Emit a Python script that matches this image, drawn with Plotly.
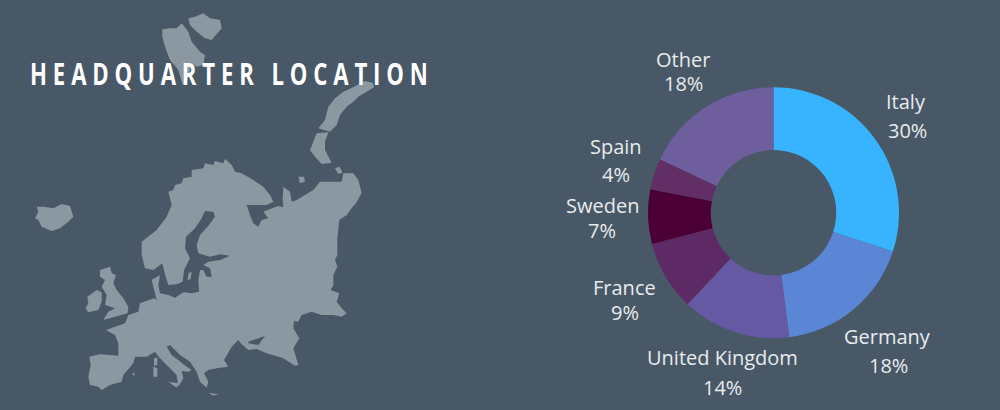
import plotly.graph_objects as go

BG = "#495866"
LAND = "#8B98A2"
TEXT = "#E8EBEE"

title_text = "HEADQUARTER LOCATION"
countries = ["Italy", "Germany", "United Kingdom", "France", "Sweden", "Spain", "Other"]
shares = [30, 18, 14, 9, 7, 4, 18]
colors = ["#38B4FF", "#5B86D6", "#6659A3", "#5E2A66", "#4A0033", "#622E66", "#6F5E9E"]

# label centres, in pixels of the 1000x410 page
name_xy = [(906, 101), (887, 336), (722, 357), (624, 287), (602, 205), (616, 146), (683, 59)]
pct_xy = [(907, 130), (888, 365), (722, 387), (625, 312), (602, 230), (616, 175), (683, 84)]

# outline of Europe in map units (1 unit = 1/3 px)
mainland = [
    (505,575),(520,570),(525,555),(545,550),(550,535),(575,530),(575,510),(610,505),(615,490),(640,495),
    (645,483),(670,490),(675,477),(695,495),(705,515),(725,520),
    (760,540),(790,560),(810,585),(820,605),(800,615),(740,615),(750,645),(760,670),(775,680),(785,660),
    (805,655),(790,635),(810,627),(835,618),(850,622),(848,600),(850,560),(870,575),(875,605),(890,600),
    (940,570),(960,545),(1000,545),(1025,545),(1030,520),(1060,520),(1075,540),(1085,578),(1068,610),
    (1058,620),(1040,645),(1018,660),(1012,715),(1012,765),(1005,780),(1012,800),(1000,825),(1000,855),
    (992,870),(1018,880),(1010,905),(1025,925),(1040,940),(1025,950),(1000,945),(965,945),(935,935),
    (905,945),(895,965),(882,963),(880,985),(898,1015),(880,1045),(895,1095),(885,1097),(850,1075),
    (800,1060),(770,1047),(745,1050),(725,1033),(715,1020),(695,1040),(672,1080),(685,1100),(650,1105),
    (625,1110),(612,1120),(625,1145),(620,1163),(600,1145),(590,1115),(570,1085),(540,1065),(510,1035),
    (500,1040),(515,1065),(560,1100),(575,1110),(565,1115),(545,1113),(550,1135),(535,1160),(530,1125),
    (500,1095),(480,1075),(465,1055),(440,1070),(405,1070),(400,1090),(370,1125),(365,1145),(330,1155),
    (305,1170),(295,1160),(270,1155),(265,1130),(272,1095),(268,1070),(300,1063),(355,1067),(355,1030),
    (345,1005),(318,990),(345,980),(375,970),(385,945),(415,935),(420,910),(462,895),(470,900),(462,865),
    (455,840),(480,825),(475,855),(480,880),(505,885),(525,893),(550,877),(575,880),(597,875),(595,840),
    (600,810),(610,810),(620,830),(635,830),(630,805),(610,795),(625,785),(660,780),(690,767),(660,763),
    (630,770),(595,760),(590,735),(600,705),(625,677),(645,650),(640,635),(615,633),(605,655),(585,685),
    (558,710),(555,745),(570,775),(552,810),(548,845),(530,853),(505,855),(497,830),(487,790),(460,810),
    (435,805),(425,765),(425,725),(470,690),(500,650),(515,615),
]
islands = [
    [(105,655),(115,635),(110,620),(130,620),(160,625),(185,612),(210,618),(220,650),(205,665),(180,685),(155,693),(125,680),(115,660)],
    [(300,810),(315,805),(330,800),(335,820),(348,825),(340,850),(350,870),(370,895),(385,920),(383,940),(350,950),(310,960),(325,935),(345,925),(315,915),(320,885),(305,860),(315,840),(300,830)],
    [(262,890),(290,870),(305,877),(305,905),(295,930),(265,937),(257,925),(265,910)],
    [(487,88),(510,85),(530,85),(545,70),(565,95),(575,125),(600,155),(615,165),(610,195),(590,200),(575,190),(560,250),(548,255),(535,210),(510,180),(495,140),(487,110)],
    [(565,55),(585,50),(610,40),(630,55),(660,60),(665,85),(635,120),(615,115),(590,95),(570,75)],
    [(1095,243),(1118,248),(1122,262),(1100,275),(1075,290),(1060,305),(1040,320),(1020,345),(1010,375),(990,395),(955,385),(975,360),(985,320),(1005,295),(1030,275),(1060,262)],
    [(950,400),(985,397),(975,425),(975,450),(995,488),(965,492),(945,470),(930,450),(940,425)],
    [(895,530),(912,530),(915,545),(900,550)],
    [(1005,505),(1018,500),(1028,518),(1015,522)],
    [(505,1145),(535,1150),(530,1163)],
    [(460,1100),(472,1105),(472,1130),(460,1130)],
    [(462,1075),(472,1073),(472,1095),(462,1097)],
    [(395,1120),(405,1120),(402,1127)],
    [(625,1178),(655,1183),(640,1187)],
    [(565,820),(575,815),(572,837),(563,840)],
]
azov = [(745,1025),(795,1008),(775,1035),(745,1030)]

map_x, map_y = [], []
for poly in [mainland] + islands:
    map_x += [p[0] for p in poly] + [poly[0][0], None]
    map_y += [p[1] for p in poly] + [poly[0][1], None]

fig = go.Figure()
fig.add_trace(go.Scatter(x=map_x, y=map_y, mode="lines", fill="toself", fillcolor=LAND,
                         line=dict(width=0, color=LAND), hoverinfo="skip", showlegend=False))
fig.add_trace(go.Scatter(x=[p[0] for p in azov], y=[p[1] for p in azov], mode="lines", fill="toself",
                         fillcolor=BG, line=dict(width=0, color=BG), hoverinfo="skip", showlegend=False))
fig.add_trace(go.Pie(labels=countries, values=shares, hole=0.5, sort=False, direction="clockwise",
                     rotation=0, textinfo="none", marker=dict(colors=colors, line=dict(width=0)),
                     domain=dict(x=[0.648, 0.899], y=[0.175, 0.7875]), showlegend=False))

ann = []
for c, s, nxy, pxy in zip(countries, shares, name_xy, pct_xy):
    for txt, (px, py) in ((c, nxy), (f"{s}%", pxy)):
        ann.append(dict(text=txt, x=px / 1000, y=1 - py / 410, xref="paper", yref="paper",
                        xanchor="center", yanchor="middle", showarrow=False,
                        font=dict(family="Open Sans", size=20, color=TEXT)))
ann.append(dict(text=f"<b>{title_text}</b>", x=0.232, y=1 - 74 / 410, xref="paper", yref="paper",
                xanchor="center", yanchor="middle", showarrow=False,
                font=dict(family="Open Sans", size=30, color="#FFFFFF")))

fig.update_layout(width=1000, height=410, margin=dict(l=0, r=0, t=0, b=0),
                  paper_bgcolor=BG, plot_bgcolor=BG, annotations=ann,
                  xaxis=dict(range=[0, 3000], visible=False, fixedrange=True),
                  yaxis=dict(range=[1230, 0], visible=False, fixedrange=True))

post = """
document.body.style.margin='0';
document.body.style.background='%s';
document.body.style.overflow='hidden';
document.querySelectorAll('.annotation-text').forEach(function(t){
  if(t.textContent==='%s'){
    t.style.letterSpacing='7.9px';
    t.style.transformBox='fill-box';
    t.style.transformOrigin='center';
    t.style.transform='scaleX(0.74)';
  }
});
""" % (BG, title_text)
fig.write_html("out.html", post_script=post, config=dict(displayModeBar=False))
